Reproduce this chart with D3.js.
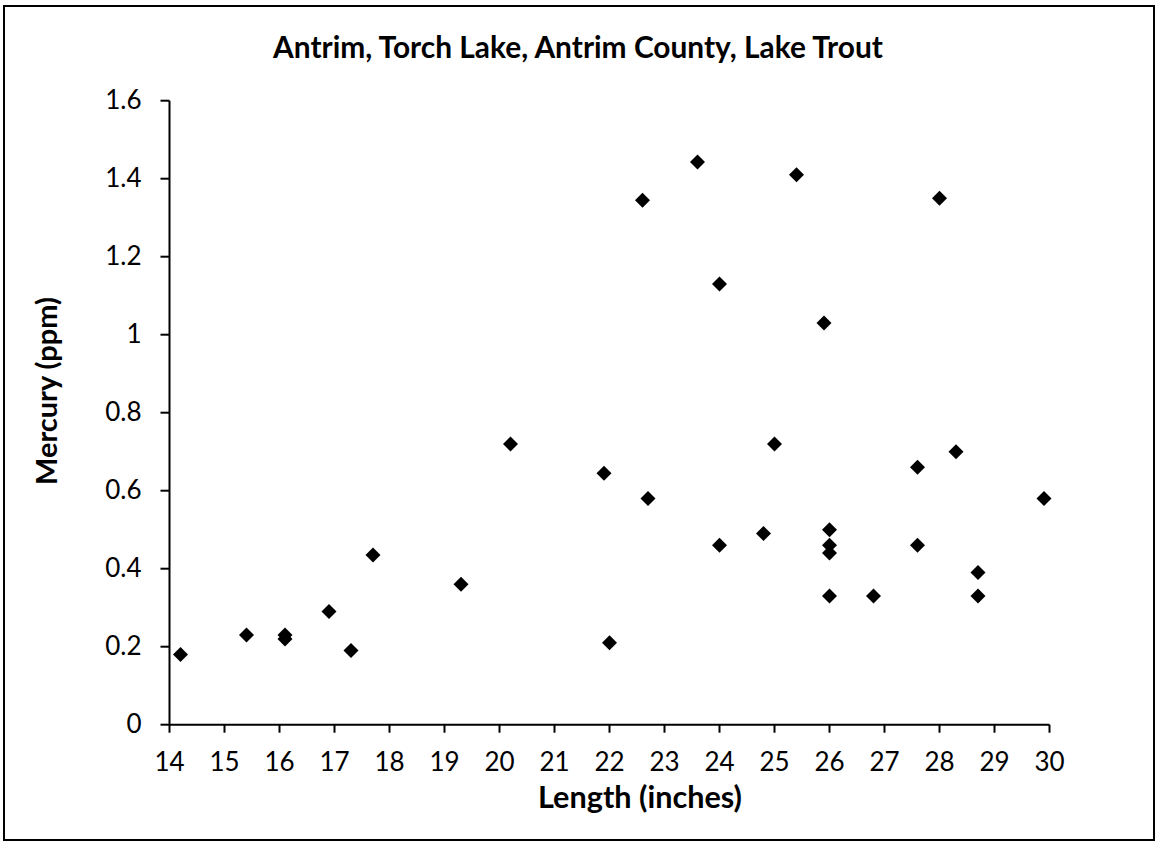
<!DOCTYPE html>
<html>
<head>
<meta charset="utf-8">
<script src="https://cdn.jsdelivr.net/npm/d3@7"></script>
<style>
  html, body { margin: 0; padding: 0; background: #fff; }
  svg { display: block; }
  text { font-family: Lato, "Open Sans", sans-serif; fill: #000; }
</style>
</head>
<body>
<svg id="chart" width="1156" height="842"></svg>
<script>
// ---- Data ----
const chartTitle = "Antrim, Torch Lake, Antrim County, Lake Trout";
const xAxisTitle = "Length (inches)";
const yAxisTitle = "Mercury (ppm)";

const lengthInches = [14.2, 15.4, 16.1, 16.1, 16.9, 17.3, 17.7, 19.3, 20.2, 21.9, 22.0,
  22.6, 22.7, 23.6, 24.0, 24.0, 24.8, 25.0, 25.4, 25.9, 26.0, 26.0, 26.0, 26.0,
  26.8, 27.6, 27.6, 28.0, 28.3, 28.7, 28.7, 29.9];
const mercuryPpm = [0.18, 0.23, 0.23, 0.22, 0.29, 0.19, 0.435, 0.36, 0.72, 0.645, 0.21,
  1.345, 0.58, 1.443, 1.13, 0.46, 0.49, 0.72, 1.41, 1.03, 0.50, 0.46, 0.44, 0.33,
  0.33, 0.66, 0.46, 1.35, 0.70, 0.39, 0.33, 0.58];

const xTicks = d3.range(14, 31, 1);
const yTicks = [0, 0.2, 0.4, 0.6, 0.8, 1, 1.2, 1.4, 1.6];

// ---- Layout ----
const svg = d3.select("#chart");

svg.append("rect")
  .attr("x", 4).attr("y", 6).attr("width", 1150).attr("height", 834)
  .attr("fill", "#fff").attr("stroke", "#000").attr("stroke-width", 2);

const x = d3.scaleLinear().domain([14, 30]).range([169.5, 1049.5]);
const y = d3.scaleLinear().domain([0, 1.6]).range([724.7, 100.7]);

const fmt = d => (d === 0 ? "0" : d3.format("~g")(d));

// X axis
const gx = svg.append("g").attr("transform", `translate(0,${y(0)})`)
  .call(d3.axisBottom(x).tickValues(xTicks).tickSizeInner(8).tickSizeOuter(0)
    .tickPadding(20).tickFormat(d3.format("d")).offset(0));
gx.select(".domain").attr("stroke", "#000").attr("stroke-width", 2);
gx.selectAll(".tick line").attr("stroke", "#000").attr("stroke-width", 2);
gx.selectAll(".tick text").attr("font-size", 26).attr("font-family", "Lato").attr("fill", "#000");

// Y axis
const gy = svg.append("g").attr("transform", `translate(${x(14)},0)`)
  .call(d3.axisLeft(y).tickValues(yTicks).tickSizeInner(9).tickSizeOuter(0)
    .tickPadding(19).tickFormat(fmt).offset(0));
gy.select(".domain").attr("stroke", "#000").attr("stroke-width", 2);
gy.selectAll(".tick line").attr("stroke", "#000").attr("stroke-width", 2);
gy.selectAll(".tick text").attr("font-size", 26).attr("font-family", "Lato").attr("fill", "#000");

// Points (diamonds = rotated squares)
const diamond = d3.symbol().type(d3.symbolSquare).size(112);
svg.append("g").selectAll("path")
  .data(lengthInches.map((v, i) => [v, mercuryPpm[i]]))
  .join("path")
  .attr("d", diamond)
  .attr("transform", d => `translate(${x(d[0])},${y(d[1])}) rotate(45)`)
  .attr("fill", "#000");

// Titles, fitted to target widths
function fitText(sel, targetWidth) {
  let fs = +sel.attr("font-size");
  const w = sel.node().getComputedTextLength();
  if (w > 0) sel.attr("font-size", fs * targetWidth / w);
}

const t = svg.append("text").text(chartTitle)
  .attr("x", 578).attr("y", 58).attr("text-anchor", "middle")
  .attr("font-weight", "bold").attr("font-size", 28);
fitText(t, 610);

const xt = svg.append("text").text(xAxisTitle)
  .attr("x", 640).attr("y", 808).attr("text-anchor", "middle")
  .attr("font-weight", "bold").attr("font-size", 28);
fitText(xt, 204);

const yt = svg.append("text").text(yAxisTitle)
  .attr("transform", "translate(57,391) rotate(-90)")
  .attr("text-anchor", "middle")
  .attr("font-weight", "bold").attr("font-size", 28);
fitText(yt, 188);
</script>
</body>
</html>
